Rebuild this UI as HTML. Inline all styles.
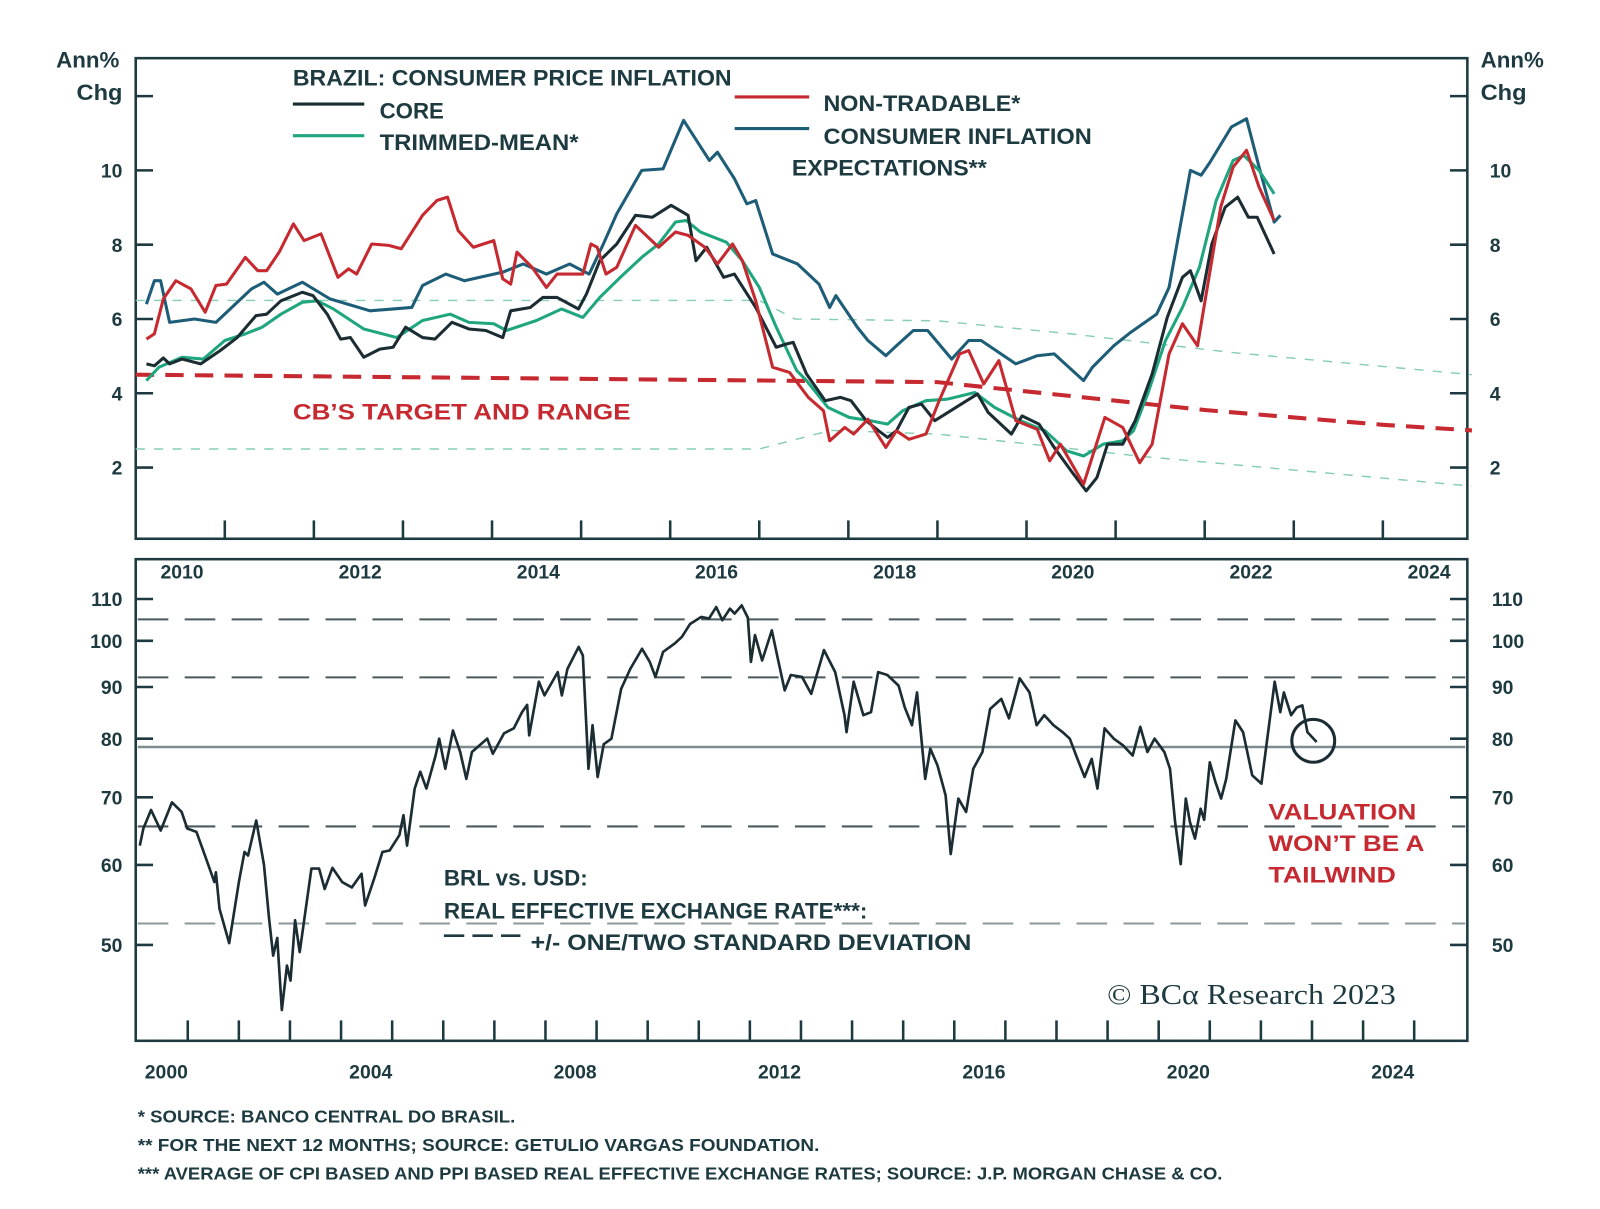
<!DOCTYPE html>
<html><head><meta charset="utf-8">
<style>
html,body{margin:0;padding:0;background:#fff;}
svg{display:block;font-family:"Liberation Sans",sans-serif;}
.t{fill:#1d3a40;}
.tick{font-size:19px;font-weight:bold;fill:#1d3a40;}
.leg{font-size:22px;fill:#1d3a40;font-weight:bold;}
.red{fill:#c62a30;}
.fn{font-size:17px;fill:#1d3a40;font-weight:bold;}
</style></head>
<body>
<svg id="chart" width="1600" height="1209" viewBox="0 0 1600 1209">
<g transform="scale(1.0204)">
<g id="frames">
<rect x="133" y="57" width="1305" height="471" fill="none" stroke="#1d3a40" stroke-width="2.5"/>
<rect x="133" y="548" width="1305" height="472" fill="none" stroke="#1d3a40" stroke-width="2.5"/>
</g>
<g id="topTicks"></g>
<g id="botTicks"></g>
<g id="topSeries"></g>
<g id="botSeries"></g>

<text x="55" y="66" class="leg" textLength="62" lengthAdjust="spacingAndGlyphs">Ann%</text>
<text x="75" y="98" class="leg" textLength="45" lengthAdjust="spacingAndGlyphs">Chg</text>
<text x="1451" y="66" class="leg" textLength="62" lengthAdjust="spacingAndGlyphs">Ann%</text>
<text x="1451" y="98" class="leg" textLength="45" lengthAdjust="spacingAndGlyphs">Chg</text>

<g>
<text x="287" y="84" class="leg" textLength="430" lengthAdjust="spacingAndGlyphs">BRAZIL: CONSUMER PRICE INFLATION</text>
<line x1="287" y1="102" x2="357" y2="102" stroke="#1b2d33" stroke-width="3"/>
<text x="372" y="116" class="leg" textLength="63" lengthAdjust="spacingAndGlyphs">CORE</text>
<line x1="287" y1="133" x2="357" y2="133" stroke="#1fa67f" stroke-width="3"/>
<text x="372" y="147" class="leg" textLength="195" lengthAdjust="spacingAndGlyphs">TRIMMED-MEAN*</text>
<line x1="720" y1="95" x2="793" y2="95" stroke="#c62a30" stroke-width="3"/>
<text x="807" y="109" class="leg" textLength="193" lengthAdjust="spacingAndGlyphs">NON-TRADABLE*</text>
<line x1="720" y1="126" x2="793" y2="126" stroke="#1d5d78" stroke-width="3"/>
<text x="807" y="141" class="leg" textLength="263" lengthAdjust="spacingAndGlyphs">CONSUMER INFLATION</text>
<text x="776" y="172" class="leg" textLength="191" lengthAdjust="spacingAndGlyphs">EXPECTATIONS**</text>
</g>
<text x="287" y="411" class="leg red" textLength="331" lengthAdjust="spacingAndGlyphs">CB’S TARGET AND RANGE</text>

<g>
<text x="435" y="868" class="leg" textLength="141" lengthAdjust="spacingAndGlyphs">BRL vs. USD:</text>
<text x="435" y="900" class="leg" textLength="415" lengthAdjust="spacingAndGlyphs">REAL EFFECTIVE EXCHANGE RATE***:</text>
<line x1="435" y1="917" x2="510" y2="917" stroke="#1d3a40" stroke-width="2.5" stroke-dasharray="20 8"/>
<text x="520" y="931" class="leg" textLength="432" lengthAdjust="spacingAndGlyphs">+/- ONE/TWO STANDARD DEVIATION</text>
</g>
<g>
<text x="1243" y="803" class="leg red" font-size="24" textLength="145" lengthAdjust="spacingAndGlyphs">VALUATION</text>
<text x="1243" y="834" class="leg red" font-size="24" textLength="153" lengthAdjust="spacingAndGlyphs">WON’T BE A</text>
<text x="1243" y="865" class="leg red" font-size="24" textLength="125" lengthAdjust="spacingAndGlyphs">TAILWIND</text>
<circle cx="1287" cy="726" r="21" fill="none" stroke="#1b2d33" stroke-width="3"/>
</g>
<text x="1085" y="984" font-family="Liberation Serif, serif" font-size="28" fill="#1d3a40" textLength="283" lengthAdjust="spacingAndGlyphs">© BCα Research 2023</text>

<g>
<text x="135" y="1100" class="fn" textLength="370" lengthAdjust="spacingAndGlyphs">*  SOURCE: BANCO CENTRAL DO BRASIL.</text>
<text x="135" y="1128" class="fn" textLength="668" lengthAdjust="spacingAndGlyphs">**  FOR THE NEXT 12 MONTHS; SOURCE: GETULIO VARGAS FOUNDATION.</text>
<text x="135" y="1156" class="fn" textLength="1063" lengthAdjust="spacingAndGlyphs">*** AVERAGE OF CPI BASED AND PPI BASED REAL EFFECTIVE EXCHANGE RATES; SOURCE: J.P. MORGAN CHASE &amp; CO.</text>
</g>
</g>
</svg>
<script>
// ---- top panel data ----
const expYears=[2010.12,2010.21,2010.28,2010.38,2010.66,2010.90,2011.30,2011.44,2011.59,2011.87,2012.18,2012.63,2013.10,2013.22,2013.48,2013.69,2014.12,2014.35,2014.61,2014.87,2015.09,2015.25,2015.40,2015.68,2015.92,2016.15,2016.44,2016.53,2016.72,2016.86,2016.96,2017.15,2017.43,2017.67,2017.79,2017.86,2018.10,2018.22,2018.42,2018.54,2018.73,2018.89,2019.16,2019.35,2019.49,2019.88,2020.12,2020.31,2020.64,2020.74,2020.98,2021.17,2021.46,2021.60,2021.84,2021.96,2022.06,2022.30,2022.47,2022.61,2022.78,2022.85];
const expVals=[6.40,7.03,7.03,5.91,6.0,5.91,6.81,6.99,6.67,6.99,6.54,6.22,6.31,6.90,7.21,7.03,7.26,7.48,7.21,7.48,7.21,8.02,8.83,10.0,10.04,11.35,10.27,10.49,9.78,9.1,9.19,7.75,7.48,6.94,6.31,6.63,5.78,5.42,5.01,5.28,5.69,5.69,4.92,5.42,5.42,4.79,5.01,5.06,4.34,4.70,5.28,5.64,6.13,6.85,10.0,9.87,10.22,11.17,11.39,10.09,8.61,8.79];
const coreYears=[2010.12,2010.21,2010.31,2010.38,2010.52,2010.73,2010.95,2011.14,2011.35,2011.47,2011.63,2011.87,2011.99,2012.15,2012.30,2012.41,2012.56,2012.74,2012.89,2013.03,2013.22,2013.36,2013.55,2013.74,2013.93,2014.12,2014.21,2014.43,2014.57,2014.73,2014.97,2015.06,2015.21,2015.40,2015.61,2015.80,2016.01,2016.20,2016.29,2016.41,2016.60,2016.72,2016.96,2017.19,2017.31,2017.38,2017.53,2017.74,2017.91,2018.03,2018.20,2018.34,2018.44,2018.54,2018.68,2018.82,2018.97,2019.21,2019.45,2019.57,2019.83,2019.95,2020.14,2020.31,2020.50,2020.67,2020.79,2020.91,2021.08,2021.22,2021.41,2021.58,2021.75,2021.84,2021.96,2022.08,2022.23,2022.37,2022.49,2022.59,2022.78];
const coreVals=[4.79,4.74,4.95,4.79,4.92,4.79,5.15,5.5,6.09,6.13,6.49,6.72,6.63,6.13,5.46,5.5,4.97,5.19,5.24,5.78,5.5,5.46,5.91,5.73,5.69,5.5,6.22,6.31,6.58,6.58,6.27,6.67,7.57,8.02,8.79,8.74,9.06,8.79,7.57,7.93,7.12,7.21,6.31,5.24,5.33,5.37,4.52,3.8,3.89,3.8,3.26,2.99,2.81,2.99,3.62,3.71,3.26,3.62,3.98,3.48,2.9,3.39,3.17,2.54,1.91,1.37,1.73,2.63,2.63,3.26,4.52,6.04,7.12,7.3,6.49,8.02,9.01,9.28,8.74,8.74,7.75];
const tmYears=[2010.12,2010.26,2010.52,2010.76,2011.0,2011.23,2011.42,2011.63,2011.87,2012.04,2012.22,2012.56,2012.93,2013.22,2013.53,2013.74,2014.02,2014.16,2014.50,2014.78,2015.02,2015.21,2015.44,2015.68,2015.87,2016.06,2016.18,2016.34,2016.63,2016.81,2017.0,2017.19,2017.42,2017.53,2017.77,2018.01,2018.25,2018.44,2018.61,2018.87,2019.11,2019.42,2019.64,2019.93,2020.21,2020.45,2020.64,2020.86,2021.08,2021.20,2021.36,2021.56,2021.75,2021.94,2022.13,2022.32,2022.44,2022.61,2022.78];
const tmVals=[4.34,4.7,4.97,4.92,5.42,5.6,5.78,6.13,6.45,6.49,6.27,5.73,5.5,5.96,6.13,5.91,5.87,5.69,5.96,6.27,6.04,6.58,7.12,7.66,8.02,8.61,8.65,8.34,8.07,7.57,6.85,5.78,4.61,4.34,3.62,3.35,3.26,3.17,3.53,3.8,3.84,4.02,3.62,3.26,2.99,2.45,2.31,2.63,2.72,2.99,3.98,5.42,6.31,7.39,9.19,10.27,10.4,10.0,9.37];
const ntYears=[2010.12,2010.21,2010.31,2010.45,2010.62,2010.78,2010.90,2011.02,2011.23,2011.37,2011.47,2011.61,2011.77,2011.89,2012.08,2012.27,2012.39,2012.48,2012.65,2012.84,2012.98,2013.22,2013.38,2013.50,2013.62,2013.79,2014.02,2014.12,2014.21,2014.28,2014.45,2014.61,2014.73,2015.02,2015.11,2015.18,2015.28,2015.40,2015.61,2015.87,2016.06,2016.20,2016.39,2016.53,2016.70,2016.81,2016.96,2017.15,2017.34,2017.55,2017.72,2017.79,2017.96,2018.06,2018.22,2018.42,2018.54,2018.68,2018.87,2019.02,2019.25,2019.35,2019.52,2019.69,2019.88,2020.12,2020.26,2020.38,2020.64,2020.88,2021.08,2021.27,2021.41,2021.60,2021.75,2021.92,2022.18,2022.32,2022.47,2022.61,2022.78];
const ntVals=[5.46,5.6,6.54,7.03,6.81,6.18,6.9,6.94,7.66,7.3,7.3,7.8,8.56,8.11,8.29,7.12,7.35,7.21,8.02,7.98,7.89,8.79,9.19,9.28,8.38,7.93,8.11,7.08,6.94,7.8,7.39,6.85,7.21,7.21,8.02,7.93,7.21,7.39,8.52,7.93,8.34,8.25,7.93,7.48,8.02,7.57,6.49,4.7,4.56,3.89,3.53,2.72,3.08,2.9,3.3,2.54,2.99,2.76,2.9,3.8,5.06,5.15,4.25,4.88,3.26,3.03,2.18,2.63,1.55,3.35,3.08,2.13,2.63,5.06,5.87,5.28,9.01,10.09,10.54,9.55,8.65];
const targetYears=[2010,2019,2020,2021,2022,2023,2024,2025];
const targetVals=[4.5,4.3,4.05,3.8,3.55,3.35,3.15,3.0];
const upperYears=[2010,2017,2017.4,2019,2020.5,2022.3,2025];
const upperVals=[6.5,6.5,6.0,5.95,5.6,5.1,4.5];
const lowerYears=[2010,2017,2017.8,2019,2021.3,2025];
const lowerVals=[2.5,2.5,3.0,2.9,2.3,1.5];
const topTickVals=[2,4,6,8,10,12];
const topTickLabels=["2","4","6","8","10",""];
const topYearLabels=[2010,2012,2014,2016,2018,2020,2022,2024];
// ---- bottom panel data ----
const reerYears=[1999.48,1999.55,1999.70,1999.89,2000.11,2000.30,2000.41,2000.59,2000.78,2000.94,2000.97,2001.04,2001.23,2001.42,2001.53,2001.60,2001.76,2001.91,2002.01,2002.09,2002.17,2002.26,2002.36,2002.43,2002.52,2002.61,2002.84,2002.99,2003.10,2003.25,2003.44,2003.63,2003.82,2003.89,2004.07,2004.23,2004.37,2004.56,2004.64,2004.71,2004.86,2004.97,2005.09,2005.27,2005.34,2005.46,2005.61,2005.75,2005.87,2005.98,2006.28,2006.39,2006.61,2006.80,2006.96,2007.06,2007.10,2007.29,2007.40,2007.66,2007.74,2007.85,2008.07,2008.15,2008.26,2008.34,2008.44,2008.56,2008.71,2008.90,2009.08,2009.31,2009.46,2009.57,2009.72,2009.95,2010.09,2010.25,2010.47,2010.62,2010.76,2010.88,2011.03,2011.12,2011.26,2011.38,2011.44,2011.52,2011.66,2011.85,2011.96,2012.10,2012.22,2012.44,2012.62,2012.87,2013.09,2013.27,2013.31,2013.45,2013.64,2013.79,2013.93,2014.11,2014.33,2014.45,2014.59,2014.69,2014.85,2014.95,2015.09,2015.25,2015.35,2015.50,2015.65,2015.79,2015.97,2016.12,2016.34,2016.49,2016.70,2016.89,2017.03,2017.18,2017.36,2017.54,2017.68,2017.83,2017.97,2018.11,2018.22,2018.36,2018.54,2018.72,2018.91,2019.06,2019.20,2019.34,2019.53,2019.64,2019.74,2019.85,2019.95,2020.03,2020.13,2020.24,2020.31,2020.42,2020.53,2020.64,2020.74,2020.92,2021.07,2021.25,2021.43,2021.69,2021.80,2021.87,2022.01,2022.12,2022.23,2022.33,2022.51];
const reerVals=[62.7,65.2,68.0,64.9,69.2,67.7,65.2,64.7,60.8,57.7,59.0,54.3,50.2,57.7,61.8,61.3,66.4,60.0,53.1,48.8,50.8,43.1,47.7,46.1,52.9,49.2,59.5,59.5,56.8,59.6,57.7,57.0,58.8,54.7,58.2,61.8,62.0,64.2,67.2,62.7,71.4,74.2,71.4,77.0,80.0,74.7,81.5,77.6,73.0,77.6,80.0,77.3,81.0,81.9,85.0,86.4,80.6,91.1,88.3,93.1,88.3,93.8,98.6,96.7,74.7,82.5,73.3,79.0,80.0,89.6,93.8,98.2,95.3,92.1,97.5,99.4,100.9,103.9,105.6,105.2,108.0,104.8,107.6,106.4,108.4,105.4,95.3,101.3,95.6,102.4,96.3,89.3,92.5,92.1,88.6,97.9,93.1,84.4,81.2,91.1,84.4,85.0,93.1,92.5,90.3,85.9,82.5,88.9,73.0,78.2,75.3,70.3,61.5,69.8,67.7,74.7,77.6,85.6,87.6,83.8,91.8,88.9,82.5,84.4,82.5,81.2,80.0,76.4,73.3,76.4,71.4,81.9,80.0,78.8,77.0,82.2,77.6,80.0,77.6,74.7,66.2,60.1,69.8,66.2,63.7,68.2,66.5,75.8,72.5,69.8,73.0,83.4,81.2,73.6,72.2,91.1,85.0,88.9,84.4,85.9,86.3,81.2,79.4];
const sdDashedVals=[105,92,65.5,52.5];
const meanVal=78.5;
const botTickVals=[50,60,70,80,90,100,110];
const botYearLabels=[2000,2004,2008,2012,2016,2020,2024];

// ---- axis functions ----
const NS="http://www.w3.org/2000/svg";
function xT(yr){return 133+(yr-2010)*87.3;}
function yT(v){return 167+(10-v)*36.4;}
function xB(yr){return 163+(yr-2000)*50.08;}
function yB(v){return 587+430*Math.log(110/v);}
function mk(tag,attrs,parent){const e=document.createElementNS(NS,tag);for(const k in attrs)e.setAttribute(k,attrs[k]);parent.appendChild(e);return e;}
function pathD(xs,ys,fx,fy){return xs.map((x,i)=>(i?'L':'M')+fx(x).toFixed(1)+' '+fy(ys[i]).toFixed(1)).join(' ');}

const tt=document.getElementById('topTicks');
topTickVals.forEach((v,i)=>{
  const y=yT(v);
  let l=mk('line',{x1:133,y1:y,x2:150,y2:y,stroke:'#1d3a40','stroke-width':2.5},tt);
  
  
  let r=mk('line',{x1:1421,y1:y,x2:1438,y2:y,stroke:'#1d3a40','stroke-width':2.5},tt);
  
  
  if(topTickLabels[i]){
    let a=mk('text',{x:120,y:y+7,'text-anchor':'end',class:'tick'},tt);a.textContent=topTickLabels[i];
    
    
    let b=mk('text',{x:1460,y:y+7,class:'tick'},tt);b.textContent=topTickLabels[i];
    
    
  }
});
for(let yr=2011;yr<=2024;yr++){
  let l=mk('line',{x1:xT(yr),y1:510,x2:xT(yr),y2:528,stroke:'#1d3a40','stroke-width':2.5},tt);
  
  
}
topYearLabels.forEach(yr=>{
  let t=mk('text',{x:xT(yr+0.52),y:567,'text-anchor':'middle',class:'tick'},tt);t.textContent=yr;
  
  
});

const ts=document.getElementById('topSeries');
let up=mk('path',{d:pathD(upperYears,upperVals,xT,yT),fill:'none',stroke:'#86cdb5','stroke-width':1.4,'stroke-dasharray':'9 9'},ts);


let lo=mk('path',{d:pathD(lowerYears,lowerVals,xT,yT),fill:'none',stroke:'#86cdb5','stroke-width':1.4,'stroke-dasharray':'9 9'},ts);


let tg=mk('path',{d:pathD(targetYears,targetVals,xT,yT),fill:'none',stroke:'#c62a30','stroke-width':4,'stroke-dasharray':'18 11'},ts);


let s1=mk('path',{d:pathD(expYears,expVals,xT,yT),fill:'none',stroke:'#1d5d78','stroke-width':3,'stroke-linejoin':'round'},ts);


let s2=mk('path',{d:pathD(tmYears,tmVals,xT,yT),fill:'none',stroke:'#1fa67f','stroke-width':3,'stroke-linejoin':'round'},ts);


let s3=mk('path',{d:pathD(coreYears,coreVals,xT,yT),fill:'none',stroke:'#1b2d33','stroke-width':3,'stroke-linejoin':'round'},ts);


let s4=mk('path',{d:pathD(ntYears,ntVals,xT,yT),fill:'none',stroke:'#c62a30','stroke-width':3,'stroke-linejoin':'round'},ts);



const bt=document.getElementById('botTicks');
botTickVals.forEach(v=>{
  const y=yB(v);
  let l=mk('line',{x1:133,y1:y,x2:150,y2:y,stroke:'#1d3a40','stroke-width':2.5},bt);
  
  
  let r=mk('line',{x1:1421,y1:y,x2:1438,y2:y,stroke:'#1d3a40','stroke-width':2.5},bt);
  
  
  let a=mk('text',{x:120,y:y+7,'text-anchor':'end',class:'tick'},bt);a.textContent=v;
  
  
  let b=mk('text',{x:1462,y:y+7,class:'tick'},bt);b.textContent=v;
  
  
});
for(let yr=2000;yr<=2024;yr++){
  const x=xB(yr)+21;
  let l=mk('line',{x1:x,y1:1000,x2:x,y2:1020,stroke:'#1d3a40','stroke-width':2.5},bt);
  
  
}
botYearLabels.forEach(yr=>{
  let t=mk('text',{x:xB(yr),y:1057,'text-anchor':'middle',class:'tick'},bt);t.textContent=yr;
  
  
});

const bs=document.getElementById('botSeries');
sdDashedVals.forEach((v,i)=>{
  const y=yB(v);
  let l=mk('line',{x1:135,y1:y,x2:1436,y2:y,stroke:i==3?'#8c979a':'#4a5a5d','stroke-width':2,'stroke-dasharray':'30 16'},bs);
  
  
});
let m=mk('line',{x1:135,y1:yB(meanVal),x2:1436,y2:yB(meanVal),stroke:'#7f8c8f','stroke-width':2.5},bs);


let rl=mk('path',{d:pathD(reerYears,reerVals,xB,yB),fill:'none',stroke:'#1b2d33','stroke-width':2.6,'stroke-linejoin':'round'},bs);


</script>
</body></html>
